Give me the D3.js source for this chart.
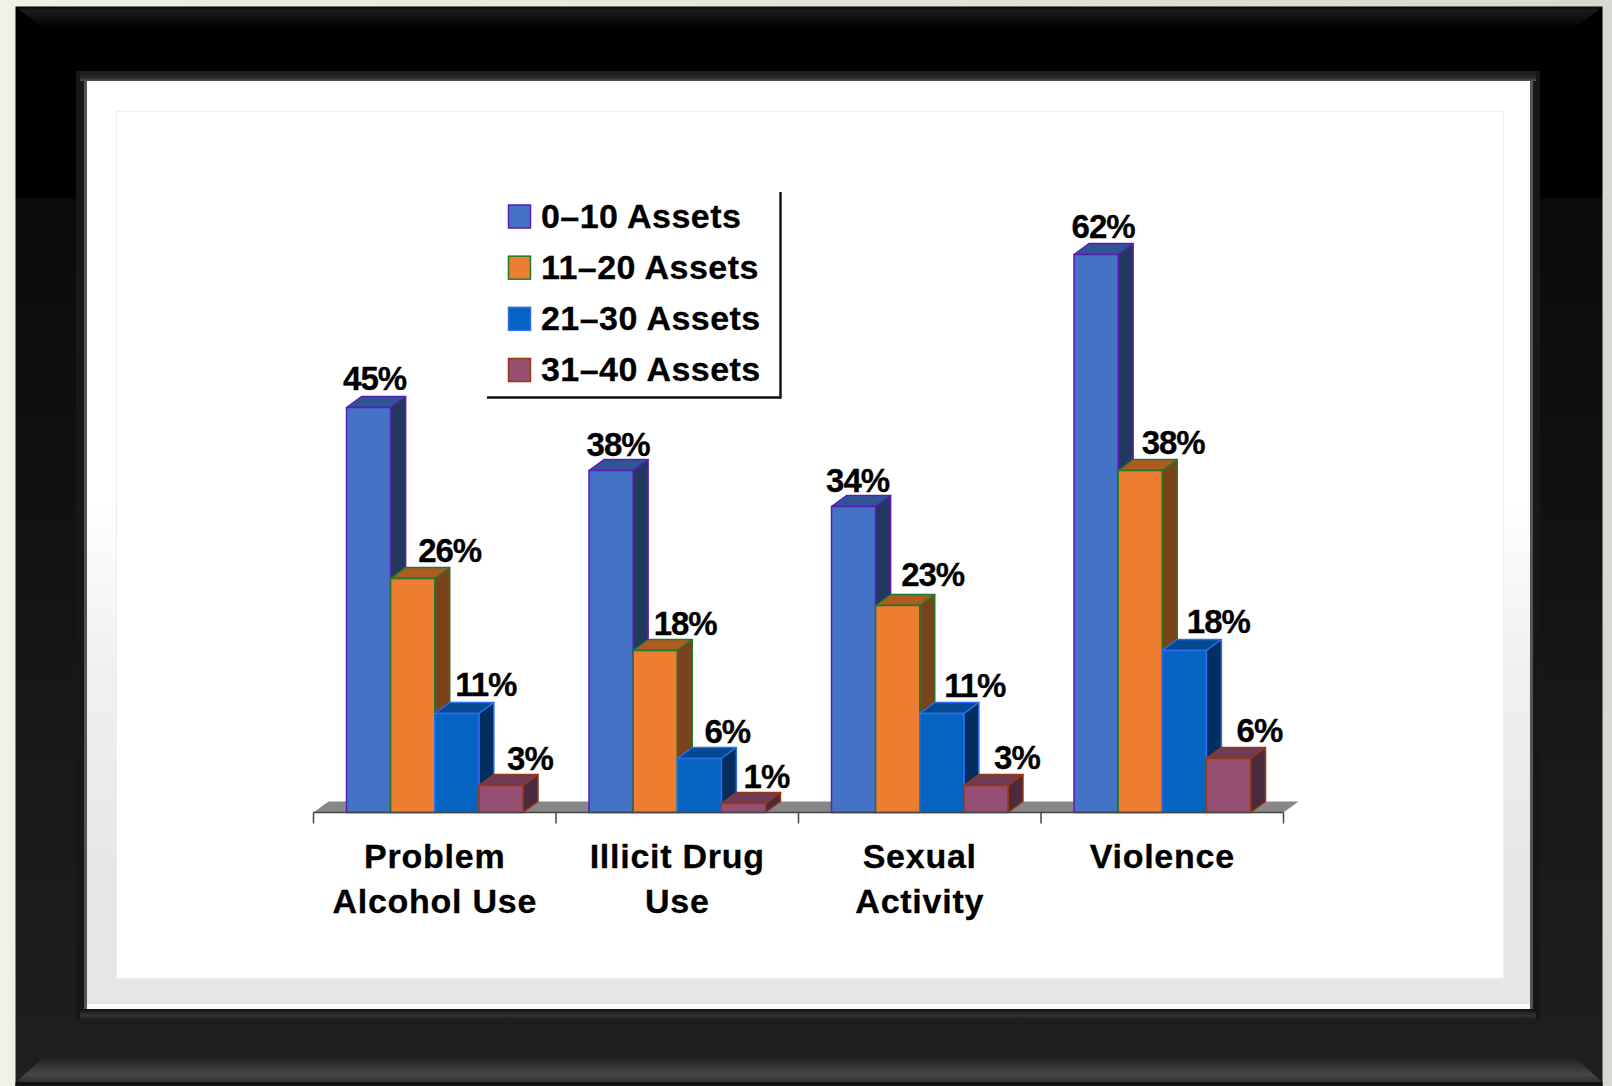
<!DOCTYPE html>
<html>
<head>
<meta charset="utf-8">
<title>Risk behaviours by developmental assets</title>
<script src="https://cdn.jsdelivr.net/npm/d3@7/dist/d3.min.js"></script>
<style>
html,body{margin:0;padding:0;background:#e9e8e1;overflow:hidden}
svg{display:block}
text{font-family:"Liberation Sans",Arial,sans-serif;font-weight:bold;fill:#000;stroke:#000;stroke-width:.3}
</style>
</head>
<body>
<svg id="chart" width="1612" height="1086"></svg>
<script>
// Chart content
const categories = [["Problem","Alcohol Use"],["Illicit Drug","Use"],["Sexual","Activity"],["Violence"]];
const seriesNames = ["0–10 Assets","11–20 Assets","21–30 Assets","31–40 Assets"];
const assets0to10 = [45,38,34,62];
const assets11to20 = [26,18,23,38];
const assets21to30 = [11,6,11,18];
const assets31to40 = [3,1,3,6];
const seriesValues = [assets0to10,assets11to20,assets21to30,assets31to40];

// Fill, outline, top and side shades per series
const fills  = ["#4472c4","#ed7d31","#0563c1","#954f72"];
const strokes= ["#5a1eb4","#1f7a2e","#2f6cf0","#963a14"];
const tops   = ["#2f5597","#ae5a21","#044a91","#703b56"];
const sides  = ["#22385f","#7a431a","#032f60","#4c2a3e"];

// Hand placement of the value labels: [dx from bar centre, dy above bar top]
const labelNudge = [
  [[6,18],[7,15],[4,15],[7,17]],
  [[37,17],[30,16],[35,20],[33,17]],
  [[29,18],[28,16],[33,17],[34,18]],
  [[29,16],[23,16],[31,17],[31,17]]
];

const svg = d3.select("#chart");
const W = 1612, H = 1086;
const defs = svg.append("defs");

function gradient(id, x1, y1, x2, y2, stops){
  const g = defs.append("linearGradient").attr("id",id)
    .attr("x1",x1).attr("y1",y1).attr("x2",x2).attr("y2",y2);
  stops.forEach(s=>g.append("stop").attr("offset",s[0]).attr("stop-color",s[1]));
}
gradient("wall",0,0,1,0,[[0,"#f0efe8"],[1,"#d9d8d0"]]);
gradient("moulding",0,0,0,1,[[0,"#000"],[0.175,"#000"],[0.18,"#0b0b0b"],[0.45,"#111"],[0.7,"#191919"],[1,"#1f1f1f"]]);
gradient("matte",0,0,0,1,[[0,"#fff"],[0.45,"#fff"],[0.62,"#f1f1f1"],[0.85,"#e6e6e6"],[1,"#e6e6e6"]]);
gradient("bevelTop",0,0,0,1,[[0,"#060606"],[0.15,"#1c1c1c"],[1,"#000"]]);
gradient("bevelBottom",0,0,0,1,[[0,"#1f1f1f"],[0.7,"#474747"],[1,"#303030"]]);
gradient("lipTop",0,0,0,1,[[0,"#1c1c1c"],[0.7,"#2a2a2a"],[1,"#555"]]);
gradient("lipBottom",0,0,0,1,[[0,"#111"],[0.6,"#333"],[1,"#1a1a1a"]]);

// Picture frame
const frame = svg.append("g");
frame.append("rect").attr("width",W).attr("height",H).attr("fill","url(#wall)");
frame.append("rect").attr("x",15.5).attr("y",6.5).attr("width",1587).attr("height",1079.5).attr("fill","url(#moulding)");
const poly = (pts,fill)=>frame.append("polygon").attr("points",pts.join(" ")).attr("fill",fill);
poly(["16,7","1602,7","1575,28","43,28"],"url(#bevelTop)");
poly(["16,1082","1602,1082","1574,1057","44,1057"],"url(#bevelBottom)");
frame.append("rect").attr("x",15.5).attr("y",1082).attr("width",1587).attr("height",4).attr("fill","#111");
// Inner lip around the mount
frame.append("rect").attr("x",76).attr("y",71).attr("width",1464).attr("height",949).attr("fill","#171717");
frame.append("rect").attr("x",80).attr("y",71).attr("width",1456).attr("height",10).attr("fill","url(#lipTop)");
frame.append("rect").attr("x",80).attr("y",1009).attr("width",1456).attr("height",11).attr("fill","url(#lipBottom)");
frame.append("rect").attr("x",84).attr("y",81).attr("width",3).attr("height",928).attr("fill","#555");
frame.append("rect").attr("x",1530).attr("y",81).attr("width",3).attr("height",928).attr("fill","#555");
// Mount and picture panel
frame.append("rect").attr("x",87).attr("y",81).attr("width",1443).attr("height",928).attr("fill","url(#matte)");
frame.append("rect").attr("x",87).attr("y",1004).attr("width",1443).attr("height",5).attr("fill","#fbfbfb");
frame.append("rect").attr("x",116.5).attr("y",111.5).attr("width",1387).attr("height",867)
  .attr("fill","#fff").attr("stroke","#eeeee2").attr("stroke-width",1);

// Scales
const baseY = 812.5;
const x0 = d3.scaleBand().domain(categories.map(c=>c.join(" "))).range([313.5,1283.5]);
const x1 = d3.scaleBand().domain(seriesNames).range([33,x0.bandwidth()-33]);
const y = d3.scaleLinear().domain([0,62]).range([baseY,baseY-558]);
const depthX = 15, depthY = 11;

// Floor
const plot = svg.append("g");
const [floorL,floorR] = x0.range();
plot.append("polygon")
  .attr("points",[[floorL,baseY],[floorR,baseY],[floorR+depthX,baseY-depthY],[floorL+depthX,baseY-depthY]].join(" "))
  .attr("fill","#878787");

// 3D bars, drawn left to right so each one overlaps the previous side wall
categories.forEach((cat,ci)=>{
  const key = cat.join(" ");
  seriesNames.forEach((name,si)=>{
    const v = seriesValues[si][ci];
    const bx = x0(key)+x1(name), bw = x1.bandwidth(), ty = y(v);
    const g = plot.append("g").attr("class","bar")
      .attr("stroke",strokes[si]).attr("stroke-width",1.5).attr("stroke-linejoin","round");
    g.append("polygon").attr("fill",tops[si])
      .attr("points",[[bx,ty],[bx+bw,ty],[bx+bw+depthX,ty-depthY],[bx+depthX,ty-depthY]].join(" "));
    g.append("polygon").attr("fill",sides[si])
      .attr("points",[[bx+bw,ty],[bx+bw+depthX,ty-depthY],[bx+bw+depthX,baseY-depthY],[bx+bw,baseY]].join(" "));
    g.append("rect").attr("x",bx).attr("y",ty).attr("width",bw).attr("height",baseY-ty).attr("fill",fills[si]);
  });
});

// Category axis
const axis = svg.append("g").attr("stroke","#444").attr("stroke-width",1.5);
axis.append("line").attr("x1",floorL).attr("x2",floorR).attr("y1",baseY).attr("y2",baseY);
const tickXs = categories.map(c=>x0(c.join(" "))).concat([floorR]);
axis.selectAll("line.tick").data(tickXs).join("line").attr("class","tick")
  .attr("x1",d=>d).attr("x2",d=>d).attr("y1",baseY).attr("y2",baseY+11);

const catLabels = svg.append("g").attr("text-anchor","middle").attr("font-size",34).attr("letter-spacing","0.75");
categories.forEach(cat=>{
  const cx = x0(cat.join(" "))+x0.bandwidth()/2;
  cat.forEach((line,i)=>{
    catLabels.append("text").attr("x",cx).attr("y",867.5+i*45).text(line);
  });
});

// Value labels
const valueLabels = svg.append("g").attr("text-anchor","middle").attr("font-size",33).attr("letter-spacing","-1");
seriesNames.forEach((name,si)=>{
  categories.forEach((cat,ci)=>{
    const key = cat.join(" ");
    const v = seriesValues[si][ci];
    const n = labelNudge[si][ci];
    valueLabels.append("text")
      .attr("x",x0(key)+x1(name)+x1.bandwidth()/2+n[0])
      .attr("y",y(v)-n[1])
      .text(v+"%");
  });
});

// Legend with its two-sided rule
const legendY = d3.scalePoint().domain(seriesNames).range([216.5,370]);
const legend = svg.append("g");
legend.append("path").attr("d","M487,397.5H780.5V192").attr("fill","none").attr("stroke","#111").attr("stroke-width",2.4);
seriesNames.forEach((name,i)=>{
  const cy = legendY(name);
  legend.append("rect").attr("x",508.5).attr("y",cy-11.5).attr("width",22).attr("height",23)
    .attr("fill",fills[i]).attr("stroke",strokes[i]).attr("stroke-width",1.5);
  legend.append("text").attr("x",541).attr("y",cy+11).attr("font-size",34).attr("letter-spacing","0.45").text(name);
});
</script>
</body>
</html>
